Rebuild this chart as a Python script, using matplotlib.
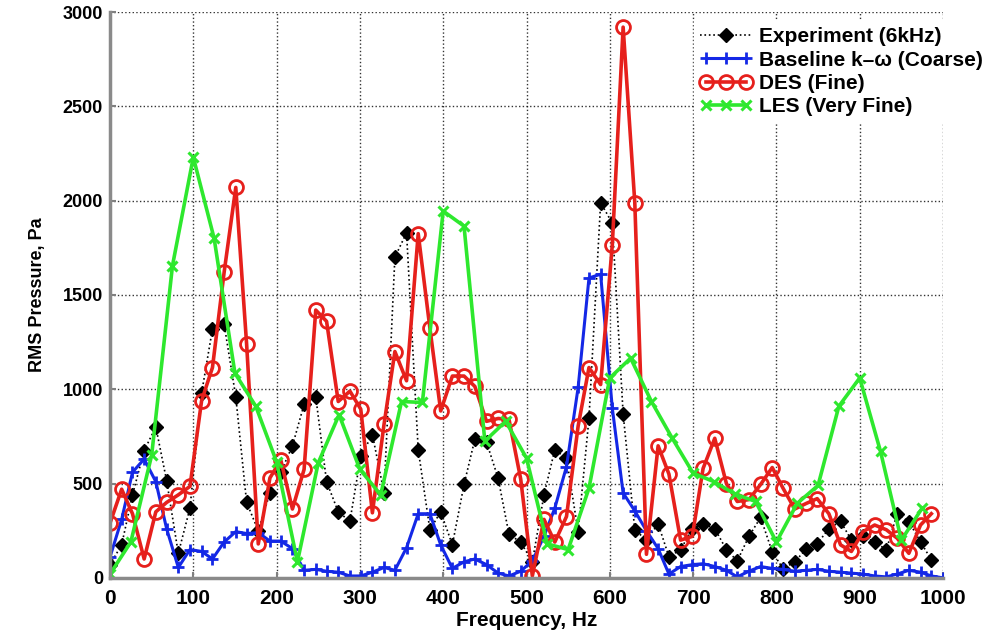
import matplotlib
matplotlib.use("Agg")
import matplotlib.pyplot as plt
from matplotlib.legend_handler import HandlerLine2D

plt.rcParams['font.family'] = ['Liberation Sans', 'DejaVu Sans']
plt.rcParams['font.weight'] = 'bold'

# frequency grid of the experiment / baseline / DES spectra (Hz)
freq = [0, 14, 27, 41, 55, 68, 82, 96, 110, 123, 137, 151, 164, 178, 192, 205,
        219, 233, 247, 260, 274, 288, 301, 315, 329, 342, 356, 370, 384, 397,
        411, 425, 438, 452, 466, 479, 493, 507, 521, 534, 548, 562, 575, 589,
        603, 616, 630, 644, 658, 671, 685, 699, 712, 726, 740, 753, 767, 781,
        795, 808, 822, 836, 849, 863, 877, 890, 904, 918, 932, 945, 959, 973,
        986, 1000]

# LES spectrum is coarser
freq_les = [0, 25, 50, 75, 100, 125, 150, 175, 200, 225, 250, 275, 300, 325,
            350, 375, 400, 425, 450, 475, 500, 525, 550, 575, 600, 625, 650,
            675, 700, 725, 750, 775, 800, 825, 850, 875, 900, 925, 950, 975]

exp_rms = [70, 175, 440, 675, 800, 515, 130, 370, 980, 1320, 1345, 960, 400,
           250, 450, 560, 700, 920, 960, 510, 350, 300, 645, 760, 450, 1700,
           1830, 680, 255, 350, 175, 495, 735, 720, 527, 230, 190, 85, 440,
           680, 633, 245, 846, 1990, 1880, 870, 255, 200, 287, 112, 149, 261,
           287, 261, 149, 90, 220, 320, 138, 48, 85, 154, 181, 261, 300, 200,
           220, 190, 149, 340, 298, 191, 96]

kw_rms = [110, 310, 560, 630, 510, 260, 55, 150, 140, 100, 190, 245, 235, 240,
          195, 195, 155, 40, 45, 35, 30, 10, 10, 30, 55, 40, 160, 340, 340,
          175, 50, 85, 100, 70, 25, 10, 35, 90, 220, 370, 590, 1010, 1590,
          1610, 900, 450, 355, 250, 155, 20, 60, 70, 75, 60, 40, 5, 35, 60,
          50, 45, 35, 40, 45, 35, 30, 25, 20, 10, 5, 20, 40, 30, 10, 0]

des_rms = [290, 470, 340, 100, 350, 400, 440, 485, 940, 1115, 1620, 2070,
           1240, 180, 530, 625, 365, 575, 1420, 1360, 935, 990, 895, 345, 815,
           1200, 1045, 1825, 1325, 885, 1070, 1070, 1015, 830, 845, 840, 525,
           10, 310, 190, 325, 805, 1115, 1025, 1765, 2920, 1990, 125, 700, 550,
           200, 220, 580, 740, 500, 405, 415, 495, 585, 475, 365, 395, 420,
           340, 175, 140, 245, 280, 255, 210, 130, 280, 340]

les_rms = [20, 190, 650, 1655, 2230, 1800, 1085, 910, 615, 85, 610, 865, 575,
           440, 935, 930, 1945, 1865, 725, 830, 635, 180, 150, 475, 1060, 1165,
           935, 740, 555, 510, 445, 405, 190, 395, 490, 910, 1060, 670, 200,
           370]

fig = plt.figure(figsize=(10, 6.35), dpi=100)
ax = fig.add_axes([0.11, 0.09, 0.833, 0.891])

l_exp, = ax.plot(freq[:len(exp_rms)], exp_rms, ':', color='black', lw=1.2,
                 marker='D', ms=7, mfc='black', mec='black',
                 label='Experiment (6kHz)')
ax.plot(freq, kw_rms, '-', color='#1428e6', lw=2.2, marker='+', ms=9, mew=2,
        label='Baseline k\u2013\u03c9 (Coarse)')
ax.plot(freq[:len(des_rms)], des_rms, '-', color='#e6201c', lw=2.6,
        marker='o', ms=10, mew=2, mfc='none', mec='#e6201c',
        label='DES (Fine)')
ax.plot(freq_les, les_rms, '-', color='#2ee82e', lw=2.6, marker='x', ms=7,
        mew=2.2, label='LES (Very Fine)')

ax.set_xlim(0, 1000)
ax.set_ylim(0, 3000)
ax.set_xticks(range(0, 1001, 100))
ax.set_yticks(range(0, 3001, 500))
ax.grid(True, linestyle=':', color='black', lw=1.0, alpha=0.8)
ax.tick_params(direction='in', length=4, width=1.5, color='#808080')
ax.tick_params(axis='x', labelsize=15, pad=8)
ax.tick_params(axis='y', labelsize=13, pad=5)
for lab in ax.get_xticklabels() + ax.get_yticklabels():
    lab.set_fontweight('bold')

ax.spines['top'].set_visible(False)
ax.spines['right'].set_visible(False)
for s in ('left', 'bottom'):
    ax.spines[s].set_color('#8a8a8a')
    ax.spines[s].set_linewidth(2.5)

ax.set_xlabel('Frequency, Hz', fontsize=15, fontweight='bold', labelpad=2)
ax.set_ylabel('RMS Pressure, Pa', fontsize=13, fontweight='bold', labelpad=12)

leg = ax.legend(loc='upper right', bbox_to_anchor=(1.0, 0.983),
                bbox_transform=fig.transFigure, numpoints=3, fontsize=15,
                frameon=True, fancybox=False, handlelength=2.5,
                handletextpad=0.35, labelspacing=0.2, borderpad=0.3,
                handler_map={l_exp: HandlerLine2D(numpoints=1)})
leg.get_frame().set_edgecolor('white')
leg.get_frame().set_facecolor('white')
leg.get_frame().set_alpha(1.0)
for t in leg.get_texts():
    t.set_fontweight('bold')

fig.savefig('out.png', dpi=100)
